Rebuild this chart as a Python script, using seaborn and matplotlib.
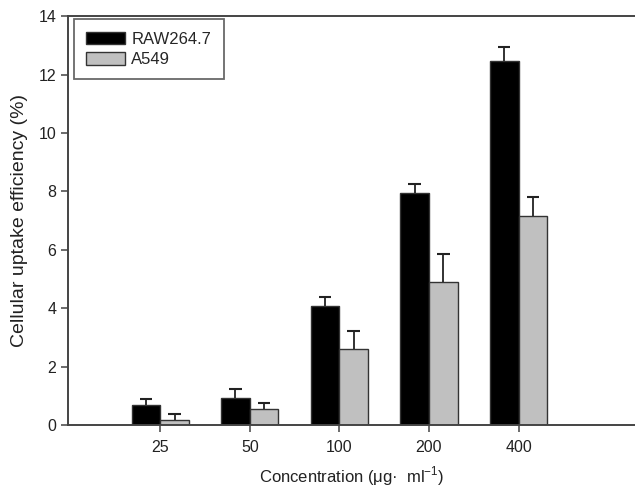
import matplotlib
matplotlib.use("Agg")
import matplotlib.pyplot as plt
import seaborn as sns
import pandas as pd
import numpy as np

concentrations = ["25", "50", "100", "200", "400"]
raw_values = [0.68, 0.92, 4.08, 7.95, 12.45]
raw_err = [0.22, 0.30, 0.30, 0.30, 0.50]
a549_values = [0.17, 0.55, 2.60, 4.90, 7.15]
a549_err = [0.20, 0.22, 0.62, 0.95, 0.65]
series = ["RAW264.7", "A549"]

df = pd.DataFrame({
    "conc": concentrations * 2,
    "value": raw_values + a549_values,
    "cell": [series[0]] * 5 + [series[1]] * 5,
})

sns.set_style("white")
plt.rcParams["font.family"] = ["Liberation Sans", "DejaVu Sans"]
plt.rcParams["mathtext.fontset"] = "custom"
plt.rcParams["mathtext.rm"] = "Liberation Sans"

fig = plt.figure(figsize=(6.35, 4.88), dpi=100)
ax = fig.add_axes([0.107, 0.129, 0.893, 0.838])

sns.barplot(data=df, x="conc", y="value", hue="cell", order=concentrations,
            hue_order=series, palette=["#000000", "#c0c0c0"], width=0.64,
            edgecolor="#333333", linewidth=1.0, errorbar=None, ax=ax, saturation=1)

# error bars (upper only, no cap at bar top)
errs = [raw_err, a549_err]
bar_containers = list(ax.containers)
for i, container in enumerate(bar_containers):
    for bar, e in zip(container, errs[i]):
        xc = bar.get_x() + bar.get_width() / 2
        h = bar.get_height()
        ax.vlines(xc, h, h + e, color="#222222", linewidth=1.3, zorder=3)
        ax.hlines(h + e, xc - 0.07, xc + 0.07, color="#222222", linewidth=1.5, zorder=3)

ax.set_xlim(-1.03, 5.3)
ax.set_ylim(0, 14)
ax.set_yticks(np.arange(0, 15, 2))
ax.set_yticklabels([str(v) for v in range(0, 15, 2)])

for s in ["left", "top", "bottom"]:
    ax.spines[s].set_color("#444444")
    ax.spines[s].set_linewidth(1.4)
ax.spines["right"].set_visible(False)

ax.tick_params(axis="both", direction="out", length=5, width=1.1, color="#444444",
               labelsize=11.5, labelcolor="#222222", bottom=True, left=True)
ax.tick_params(axis="x", pad=6)

ax.set_xlabel("Concentration (μg·  ml$^{-1}$)", fontsize=12, color="#222222")
ax.xaxis.set_label_coords(0.5, -0.096)
ax.set_ylabel("Cellular uptake efficiency (%)", fontsize=14, color="#222222")
ax.yaxis.set_label_coords(-0.071, 0.5)

leg = ax.legend(loc="upper left", frameon=True, fancybox=False, fontsize=12,
                edgecolor="#444444", borderpad=0.75, handlelength=2.3,
                handleheight=0.8, handletextpad=0.4, labelspacing=0.3,
                borderaxespad=0, bbox_to_anchor=(0.0106, 0.9927))
leg.get_frame().set_linewidth(1.3)
leg.set_title(None)

fig.savefig("out.png", dpi=100)
